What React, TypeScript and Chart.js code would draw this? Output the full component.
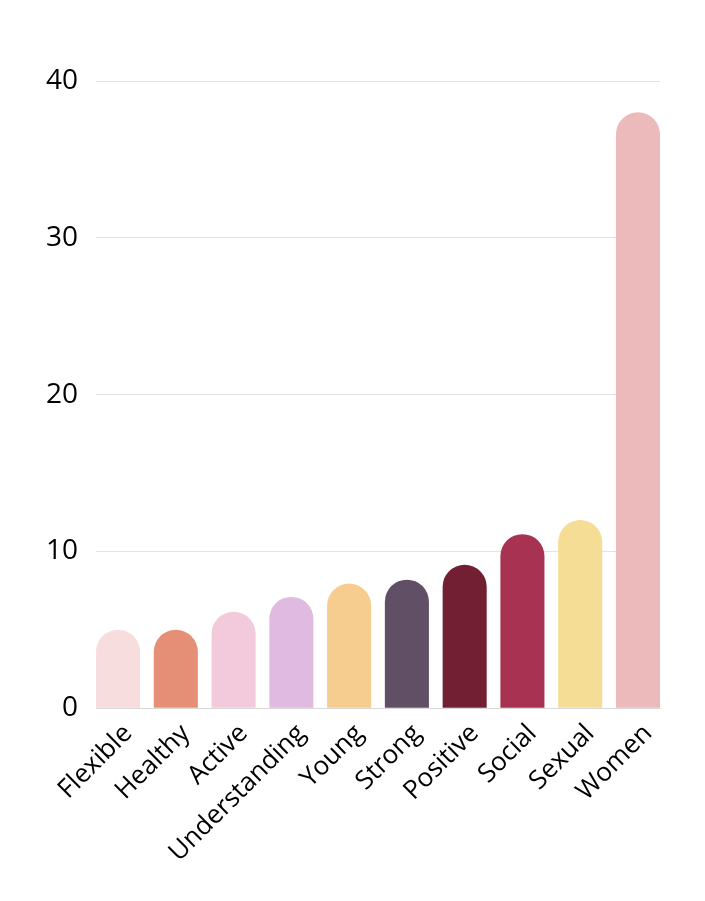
import React, { useEffect, useRef } from "react";
import { Chart, registerables } from "chart.js";

Chart.register(...registerables);

const categories = ["Flexible", "Healthy", "Active", "Understanding", "Young", "Strong", "Positive", "Social", "Sexual", "Women"];
const values = [5, 5, 6.15, 7.1, 7.95, 8.2, 9.15, 11.1, 12, 38];
const barColors = ["#F8DDDE", "#E58F77", "#F2CADC", "#E0BAE0", "#F7CD8F", "#614F66", "#731F33", "#A83252", "#F6DD96", "#EDBABB"];
const yMax = 40;
const yStep = 10;

const BAR_PCT = 0.7626;

export default function App() {
  const ref = useRef<HTMLCanvasElement | null>(null);
  useEffect(() => {
    document.body.style.margin = "0";
    const ctx = ref.current!;
    const chart = new Chart(ctx, {
      type: "bar",
      data: {
        labels: categories,
        datasets: [
          {
            data: values,
            backgroundColor: barColors,
            borderWidth: 0,
            borderSkipped: false,
            borderRadius: { topLeft: 22, topRight: 22, bottomLeft: 0, bottomRight: 0 },
            barPercentage: BAR_PCT,
            categoryPercentage: 1,
          },
        ],
      },
      options: {
        animation: false,
        responsive: false,
        devicePixelRatio: 1,
        layout: { padding: { top: 81, left: 28, right: 45, bottom: 23 } },
        plugins: { legend: { display: false }, tooltip: { enabled: false } },
        scales: {
          x: {
            grid: { display: false, drawTicks: false },
            border: { display: true, color: "#d9d9d9", width: 1 },
            afterBuildTicks: (scale: any) => {
              // bars flush with the plot edges, as in the reference
              const d = (1 - BAR_PCT) / 2;
              const n = categories.length;
              scale._startValue = -0.5 + d;
              scale._valueRange = n - 2 * d;
            },
            afterFit: (scale: any) => {
              scale.paddingLeft = 0;
              scale.paddingRight = 0;
            },
            ticks: {
              color: "#000",
              font: { family: "'Open Sans'", size: 26 },
              maxRotation: 45,
              minRotation: 45,
              padding: 10,
              labelOffset: 10,
            },
          },
          y: {
            min: 0,
            max: yMax,
            grid: { color: "#e3e3e3", drawTicks: false },
            border: { display: false },
            ticks: {
              stepSize: yStep,
              color: "#000",
              font: { family: "'Open Sans'", size: 28 },
              padding: 18,
            },
          },
        },
      },
    });
    return () => chart.destroy();
  }, []);
  return <canvas ref={ref} width={705} height={901} style={{ display: "block" }} />;
}
